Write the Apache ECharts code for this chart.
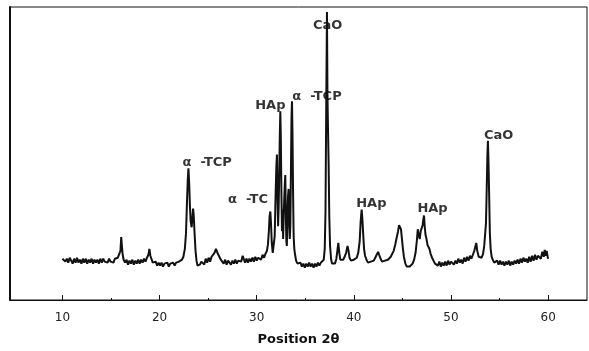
<!DOCTYPE html>
<html>
<head>
<meta charset="utf-8">
<script src="https://cdn.jsdelivr.net/npm/echarts@6/dist/echarts.min.js"></script>
<style>
  html, body { margin: 0; padding: 0; background: #fff; }
  #main { width: 589px; height: 351px; }
</style>
</head>
<body>
<div id="main"></div>
<script>
// diffraction angle (2θ) and intensity (arbitrary units), row by row
var twoTheta = [
    10.0, 10.15, 10.3, 10.45, 10.6, 10.75, 10.9, 11.05, 11.2, 11.35, 11.5, 11.65, 11.8, 11.95, 12.1, 12.25, 12.4, 12.55, 12.7, 12.85,
    13.0, 13.15, 13.3, 13.45, 13.6, 13.75, 13.9, 14.05, 14.2, 14.35, 14.5, 14.65, 14.8, 14.95, 15.1, 15.25, 15.4, 15.55, 15.7, 15.85,
    15.97, 16.05, 16.12, 16.2, 16.3,
    16.45, 16.6, 16.75, 16.9, 17.05, 17.2, 17.35, 17.5, 17.65, 17.8, 17.95, 18.1, 18.25, 18.4, 18.55, 18.7,
    18.85, 18.95, 19.05, 19.15,
    19.3, 19.45, 19.6, 19.75, 19.9, 20.05, 20.2, 20.35, 20.5, 20.65, 20.8, 20.95, 21.1, 21.25, 21.4, 21.55, 21.7, 21.85, 22.0, 22.15, 22.3,
    22.45, 22.6, 22.72, 22.82, 22.9, 22.97, 23.05, 23.12, 23.2, 23.3, 23.38, 23.45, 23.52, 23.6, 23.7, 23.8, 23.9, 24.0,
    24.15, 24.3, 24.45, 24.6, 24.75, 24.9, 25.05, 25.2, 25.35, 25.5, 25.65, 25.8, 25.9, 26.0, 26.15, 26.3, 26.45, 26.6, 26.75, 26.9,
    27.05, 27.2, 27.35, 27.5, 27.65, 27.8, 27.95, 28.1, 28.25, 28.4, 28.55, 28.65, 28.8, 28.95, 29.1, 29.25, 29.4, 29.55, 29.7, 29.85,
    30.0, 30.15, 30.3, 30.45, 30.6, 30.75, 30.9, 31.05,
    31.15, 31.25, 31.32, 31.4, 31.47, 31.55, 31.65, 31.75, 31.85, 31.95, 32.02, 32.08, 32.14, 32.2, 32.26, 32.32, 32.38, 32.43, 32.48, 32.54,
    32.6, 32.66, 32.72, 32.78, 32.84, 32.9, 32.94, 33.0, 33.05, 33.1, 33.16, 33.22, 33.28, 33.34, 33.4, 33.46, 33.52, 33.58, 33.63, 33.68,
    33.74, 33.8, 33.87, 33.95, 34.05,
    34.2, 34.35, 34.5, 34.65, 34.8, 34.95, 35.1, 35.25, 35.4, 35.55, 35.7, 35.85, 36.0, 36.15, 36.3, 36.45, 36.6, 36.75, 36.9,
    37.0, 37.08, 37.15, 37.23, 37.28, 37.33, 37.4, 37.47, 37.55, 37.65, 37.75, 37.9,
    38.05, 38.2, 38.3, 38.4, 38.5, 38.6, 38.75, 38.9, 39.05, 39.2, 39.35, 39.45, 39.55, 39.7, 39.85, 40.0, 40.15, 40.3, 40.45, 40.6,
    40.7, 40.8, 40.88, 40.97, 41.05, 41.15, 41.3,
    41.45, 41.6, 41.75, 41.9, 42.05, 42.2, 42.35, 42.5, 42.6, 42.75, 42.9, 43.05, 43.2, 43.35, 43.5, 43.65, 43.8, 43.95, 44.1, 44.25,
    44.4, 44.55, 44.65, 44.75, 44.85, 44.95, 45.05, 45.15,
    45.3, 45.45, 45.6, 45.75, 45.9, 46.05, 46.2, 46.35, 46.48, 46.58, 46.68, 46.78, 46.88, 46.98, 47.08, 47.15, 47.22, 47.3, 47.38, 47.48,
    47.58, 47.68, 47.78, 47.9, 48.05,
    48.2, 48.35, 48.5, 48.65, 48.8, 48.95, 49.1, 49.25, 49.4, 49.55, 49.7, 49.85, 50.0, 50.15, 50.3, 50.45, 50.6, 50.75, 50.9, 51.05,
    51.2, 51.35, 51.5, 51.65, 51.8, 51.95, 52.1, 52.25,
    52.4, 52.52, 52.6, 52.7, 52.85, 53.0, 53.15, 53.3, 53.42, 53.52, 53.6, 53.67, 53.74, 53.8, 53.86, 53.92, 54.0, 54.08, 54.18, 54.3,
    54.45, 54.6, 54.75, 54.9, 55.05, 55.2, 55.35, 55.5, 55.65, 55.8, 55.95, 56.1, 56.25, 56.4, 56.55, 56.7, 56.85, 57.0, 57.15, 57.3,
    57.45, 57.6, 57.75, 57.9, 58.05, 58.2, 58.35, 58.5, 58.65, 58.8, 58.95, 59.1, 59.25, 59.4, 59.55, 59.65, 59.75, 59.85, 59.95, 60.0
];
var intensity = [
    42, 44, 39, 42, 38, 43, 40, 37, 42, 38, 43, 38, 41, 37, 42, 38, 42, 37, 41, 38,
    42, 37, 41, 38, 41, 37, 42, 38, 42, 39, 41, 38, 42, 39, 41, 38, 42, 40, 43, 45,
    50, 64, 55, 46, 41,
    38, 41, 36, 40, 37, 41, 36, 40, 37, 41, 37, 41, 38, 42, 39, 43,
    46, 52, 45, 42,
    38, 36, 39, 35, 38, 35, 38, 34, 37, 35, 38, 34, 37, 35, 38, 35, 38, 36, 39, 37, 41,
    44, 52, 68, 100, 122, 134, 118, 96, 80, 74, 84, 93, 85, 68, 50, 40, 35, 33,
    36, 39, 41, 36, 42, 38, 43, 39, 44, 45, 48, 52, 50, 47, 44, 41, 40, 37, 41, 36,
    40, 41, 36, 40, 37, 41, 37, 40, 42, 39, 45, 43, 38, 42, 38, 42, 39, 43, 39, 44,
    40, 43, 44, 41, 46, 43, 47, 50,
    56, 70, 85, 90, 78, 58, 48, 46, 65, 110, 135, 148, 105, 75, 95, 130, 170, 192, 165, 110,
    70, 92, 62, 88, 105, 120, 127, 85, 60, 55, 85, 105, 113, 78, 62, 75, 130, 185, 202, 170,
    110, 65, 52, 46, 40,
    37, 35, 38, 34, 37, 33, 37, 34, 38, 34, 37, 33, 37, 34, 38, 35, 38, 36, 41,
    52, 90, 190, 293, 210, 178, 140, 85, 55, 42, 37, 35,
    37, 42, 50, 58, 48, 41, 40, 41, 44, 48, 55, 50, 43, 40, 38, 41, 40, 43, 48, 60,
    80, 92, 82, 65, 52, 45, 41,
    38, 39, 39, 40, 40, 43, 46, 49, 46, 42, 39, 40, 40, 41, 41, 42, 44, 46, 50, 56,
    63, 70, 76, 78, 72, 62, 52, 44,
    37, 34, 33, 34, 35, 37, 41, 48, 60, 72, 66, 62, 70, 68, 76, 82, 86, 74, 66, 62,
    56, 58, 52, 47, 43,
    41, 37, 38, 35, 39, 34, 38, 35, 39, 35, 40, 36, 39, 40, 36, 40, 37, 42, 38, 41,
    37, 43, 39, 44, 40, 45, 42, 46,
    50, 55, 58, 50, 44, 42, 43, 47, 55, 68, 78, 110, 145, 162, 140, 110, 68, 52, 44, 41,
    38, 39, 40, 36, 40, 36, 39, 35, 39, 36, 40, 35, 39, 36, 40, 37, 41, 37, 42, 38,
    43, 39, 42, 38, 44, 39, 45, 40, 46, 41, 45, 47, 42, 49, 44, 51, 45, 50, 44, 42
];

// phase labels
var tagX = [24.9, 29.1, 31.4, 36.2, 37.3, 41.8, 48.1, 54.9];
var tagY = [140, 102, 198, 207, 279, 98, 93, 167];
var tagText = ['α  -TCP', 'α  -TC', 'HAp', 'α  -TCP', 'CaO', 'HAp', 'HAp', 'CaO'];

var majorTicks = [10, 20, 30, 40, 50, 60];
var minorTicks = [15, 25, 35, 45, 55];

var chartDom = document.getElementById('main');
var myChart = echarts.init(chartDom);

var scan = twoTheta.map(function (t, i) { return [t, intensity[i]]; });
var tags = tagX.map(function (t, i) { return { value: [t, tagY[i]], name: tagText[i] }; });

var option = {
    animation: false,
    backgroundColor: '#fff',
    grid: {
        left: 10, right: 2, top: 7, bottom: 46,
        show: true, borderColor: '#111', borderWidth: 1
    },
    xAxis: [{
        type: 'value',
        min: 4.6,
        max: 64,
        name: 'Position 2θ',
        nameLocation: 'middle',
        nameGap: 33,
        nameTextStyle: { fontFamily: 'DejaVu Sans', fontWeight: 'bold', fontSize: 13, color: '#111' },
        axisLine: { lineStyle: { color: '#111', width: 1 } },
        axisTick: { inside: true, length: 5, customValues: majorTicks, lineStyle: { color: '#111' } },
        axisLabel: { customValues: majorTicks, margin: 12, fontFamily: 'DejaVu Sans', fontSize: 12, color: '#222' },
        splitLine: { show: false }
    }, {
        type: 'value',
        position: 'bottom',
        min: 4.6,
        max: 64,
        axisLine: { show: false },
        axisTick: { inside: true, length: 2, customValues: minorTicks, lineStyle: { color: '#111' } },
        axisLabel: { show: false },
        splitLine: { show: false }
    }],
    yAxis: {
        type: 'value',
        min: 0,
        max: 298,
        axisLine: { show: true, lineStyle: { color: '#111', width: 2 } },
        axisTick: { show: false },
        axisLabel: { show: false },
        splitLine: { show: false }
    },
    series: [{
        type: 'scatter',
        data: tags,
        symbolSize: 0,
        silent: true,
        z: 1,
        label: {
            show: true,
            position: 'inside',
            formatter: '{b}',
            fontFamily: 'DejaVu Sans',
            fontWeight: 'bold',
            fontSize: 13,
            color: '#000',
            textBorderWidth: 0
        }
    }, {
        type: 'line',
        data: scan,
        symbol: 'none',
        z: 3,
        lineStyle: { color: '#111', width: 2 }
    }]
};

option && myChart.setOption(option);
</script>
</body>
</html>
